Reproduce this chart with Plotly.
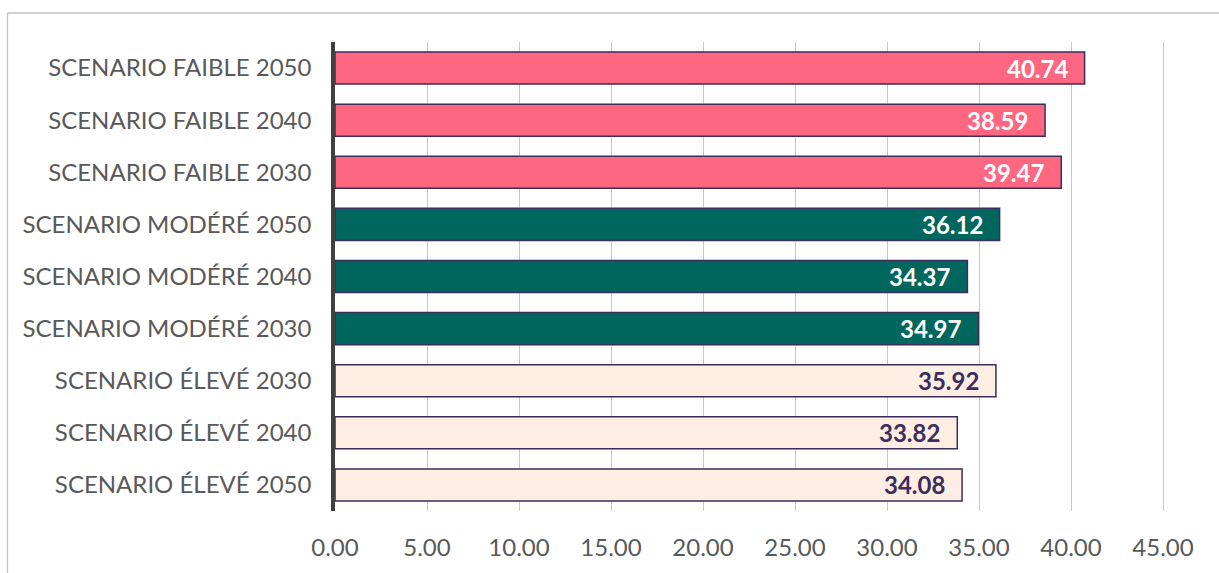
import plotly.graph_objects as go

# Scenario labels, top to bottom
categories = [
    "SCENARIO FAIBLE 2050",
    "SCENARIO FAIBLE 2040",
    "SCENARIO FAIBLE 2030",
    "SCENARIO MODÉRÉ 2050",
    "SCENARIO MODÉRÉ 2040",
    "SCENARIO MODÉRÉ 2030",
    "SCENARIO ÉLEVÉ 2030",
    "SCENARIO ÉLEVÉ 2040",
    "SCENARIO ÉLEVÉ 2050",
]
values = [40.74, 38.59, 39.47, 36.12, 34.37, 34.97, 35.92, 33.82, 34.08]
bar_colors = ["#FF6680"] * 3 + ["#00665E"] * 3 + ["#FDEDE3"] * 3
label_colors = ["#FFFFFF"] * 6 + ["#3B2D5C"] * 3
x_ticks = [0, 5, 10, 15, 20, 25, 30, 35, 40, 45]
x_ticklabels = [f"{t:.2f}" for t in x_ticks]

W, H = 1219, 573
ml, mr, mt, mb = 335, 44, 42, 54
pw = W - ml - mr
ph = H - mt - mb
x_max = pw / 18.4

fig = go.Figure()
fig.add_trace(go.Bar(
    y=categories,
    x=values,
    orientation="h",
    marker=dict(color=bar_colors, line=dict(color="#3B2D5C", width=1.5)),
    hoverinfo="skip",
))

for cat, val, col in zip(categories, values, label_colors):
    fig.add_annotation(
        x=val, y=cat, xref="x", yref="y",
        text=f"<b>{val:.2f}</b>",
        showarrow=False, xanchor="right", yanchor="middle",
        xshift=-15,
        font=dict(family="Lato", size=24, color=col),
    )

# outer chart frame (left and top edges)
def px_x(p):
    return (p - ml) / pw

def px_y(p):
    return (H - mb - p) / ph

fig.add_shape(type="line", xref="paper", yref="paper",
              x0=px_x(7.5), x1=px_x(1300), y0=px_y(12.5), y1=px_y(12.5),
              line=dict(color="#C4C4C4", width=1.3))
fig.add_shape(type="line", xref="paper", yref="paper",
              x0=px_x(7.5), x1=px_x(7.5), y0=px_y(12.5), y1=px_y(650),
              line=dict(color="#C4C4C4", width=1.3))

fig.update_layout(
    width=W, height=H,
    margin=dict(l=ml, r=mr, t=mt, b=mb, pad=0),
    paper_bgcolor="white", plot_bgcolor="white",
    bargap=0.385,
    showlegend=False,
    font=dict(family="Lato", size=24, color="#595959"),
)
fig.update_xaxes(
    range=[0, x_max],
    tickvals=x_ticks, ticktext=x_ticklabels,
    showgrid=True, gridcolor="#C8C8C8", gridwidth=1.3,
    zeroline=False, showline=False, ticks="",
    ticklabelstandoff=20,
    tickfont=dict(family="Lato", size=24, color="#595959"),
    fixedrange=True,
)
fig.update_yaxes(
    categoryorder="array", categoryarray=categories,
    autorange="reversed",
    showline=True, linecolor="#404040", linewidth=3.5,
    showgrid=False, zeroline=False, ticks="",
    ticklabelstandoff=15,
    tickfont=dict(family="Lato", size=24, color="#595959"),
    fixedrange=True,
)

fig.write_html("out.html")
